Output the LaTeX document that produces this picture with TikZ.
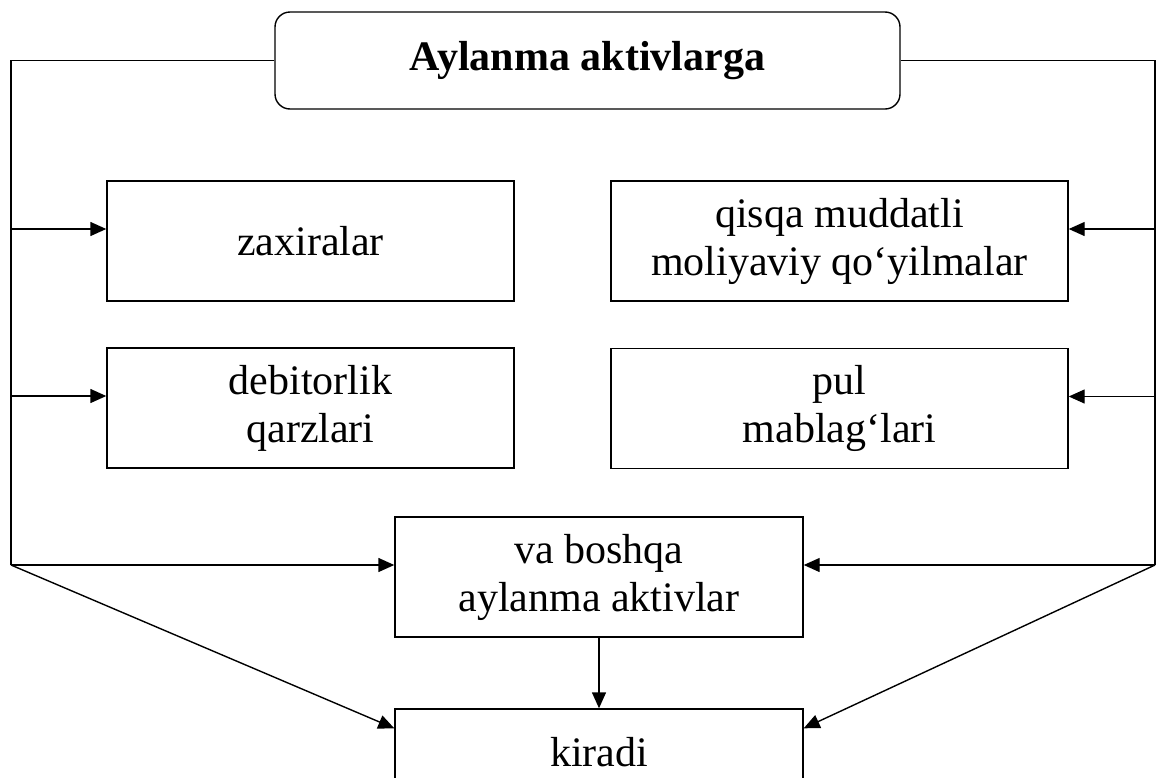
\documentclass[tikz,border=0pt]{standalone}
\usepackage{fontspec}
\setmainfont{Liberation Serif}
\usepackage{tikz}
\usetikzlibrary{arrows.meta, positioning, calc}
\tikzset{
  box/.style={rectangle, draw=black, line width=0.7pt, inner sep=0pt,
    align=center, font=\fontsize{21}{24}\selectfont},
  titlebox/.style={box, rounded corners=7.5pt, font=\fontsize{21}{24}\selectfont\bfseries},
  arrow/.style={-{Triangle[length=8pt,width=7pt]}, line width=0.7pt, color=black},
  line/.style={line width=0.7pt, color=black}
}
\begin{document}
\begin{tikzpicture}[x=0.5pt, y=-0.5pt]
  \useasboundingbox (0,0) rectangle (1156,777);

  \node [titlebox, minimum width=312.5pt, minimum height=48.5pt] (title) at (587.5,60.5) {Aylanma aktivlarga};
  \node [box, minimum width=203.5pt, minimum height=60pt] (zax) at (310.5,241) {zaxiralar};
  \node [box, minimum width=203.5pt, minimum height=60pt] (deb) at (310.5,408) {debitorlik\\qarzlari};
  \node [box, minimum width=228.5pt, minimum height=60pt] (qis) at (839.5,241) {qisqa muddatli\\moliyaviy qo‘yilmalar};
  \node [box, minimum width=228.5pt, minimum height=60pt] (pul) at (839.5,408.5) {pul\\mablag‘lari};
  \node [box, minimum width=204pt, minimum height=60pt] (vab) at (599,577) {va boshqa\\aylanma aktivlar};
  \node [box, minimum width=204pt, minimum height=43pt] (kir) at (599,752) {kiradi};

  \coordinate (lt) at (11,60.5);
  \coordinate (lb) at (11,565);
  \coordinate (rt) at (1155,60.5);
  \coordinate (rb) at (1155,565);

  % entry points, a bit above the middle of each box
  \coordinate (zaxin) at ([yshift=6pt]zax.west);
  \coordinate (debin) at ([yshift=6pt]deb.west);
  \coordinate (qisin) at ([yshift=6pt]qis.east);
  \coordinate (pulin) at ([yshift=6pt]pul.east);
  \coordinate (kirl) at ([yshift=-10pt]kir.north west);
  \coordinate (kirr) at ([yshift=-10pt]kir.north east);

  \draw [line] (title.west) -- (lt) -- (lb);
  \draw [line] (title.east) -- (rt) -- (rb);

  \draw [arrow] (lt |- zaxin) -- (zaxin);
  \draw [arrow] (lt |- debin) -- (debin);
  \draw [arrow] (lb) -- (lb -| vab.west);
  \draw [arrow] (rt |- qisin) -- (qisin);
  \draw [arrow] (rt |- pulin) -- (pulin);
  \draw [arrow] (rb) -- (rb -| vab.east);

  \draw [arrow] (lb) -- (kirl);
  \draw [arrow] (rb) -- (kirr);
  \draw [arrow] (vab.south) -- (kir.north);
\end{tikzpicture}
\end{document}
